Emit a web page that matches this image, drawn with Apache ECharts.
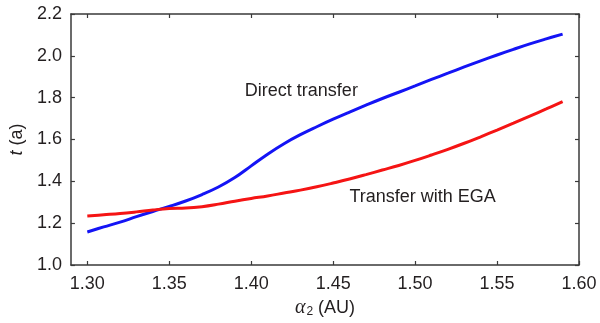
<!DOCTYPE html>
<html>
<head>
<meta charset="utf-8">
<script src="https://cdn.jsdelivr.net/npm/echarts@6/dist/echarts.min.js"></script>
<style>
html,body{margin:0;padding:0;background:#fff;}
#chart{width:600px;height:323px;}
</style>
</head>
<body>
<div id="chart"></div>
<script>
// ---- data ----
var alpha2 = [1.30,1.31,1.32,1.33,1.34,1.35,1.36,1.37,1.38,1.39,1.40,1.41,1.42,1.43,1.44,1.45,1.46,1.47,1.48,1.49,1.50,1.51,1.52,1.53,1.54,1.55,1.56,1.57,1.58,1.59];
var directTransfer = [1.158,1.182,1.205,1.231,1.256,1.280,1.306,1.337,1.373,1.418,1.474,1.530,1.580,1.623,1.661,1.697,1.731,1.764,1.796,1.826,1.856,1.887,1.917,1.947,1.976,2.004,2.031,2.057,2.081,2.104];
var transferEGA = [1.234,1.240,1.246,1.254,1.263,1.270,1.272,1.279,1.291,1.305,1.318,1.330,1.344,1.358,1.374,1.392,1.411,1.432,1.454,1.476,1.500,1.526,1.553,1.582,1.613,1.645,1.678,1.712,1.746,1.781];
var xTicks = [1.30,1.35,1.40,1.45,1.50,1.55,1.60];
var yTicks = [1.0,1.2,1.4,1.6,1.8,2.0,2.2];
var seriesNames = ['Direct transfer','Transfer with EGA'];
var labelCoords = [[1.4306,1.832],[1.5046,1.325]];

function pairs(xs, ys){ return xs.map(function(x,i){ return [x, ys[i]]; }); }

var FONT = '"Liberation Sans", Arial, sans-serif';
var TXT = '#231f20';
var AX = '#3a3a3a';

var chart = echarts.init(document.getElementById('chart'), null, {renderer:'canvas'});

function xAx(pos, showLabel){
  return {
    type:'value', position:pos, min:1.29, max:1.60,
    axisLine:{show:true, onZero:false, lineStyle:{color:AX, width:1.5}},
    axisTick:{show:true, inside:true, length:4, customValues:xTicks, lineStyle:{color:AX, width:1.2}},
    axisLabel:{show:showLabel, customValues:xTicks, margin:10, color:TXT, fontFamily:FONT, fontSize:18,
      formatter:function(v){ return Number(v).toFixed(2); }},
    splitLine:{show:false}
  };
}
function yAx(pos, showLabel){
  return {
    type:'value', position:pos, min:1.0, max:2.2,
    axisLine:{show:true, onZero:false, lineStyle:{color:AX, width:1.5}},
    axisTick:{show:true, inside:true, length:4, customValues:yTicks, lineStyle:{color:AX, width:1.2}},
    axisLabel:{show:showLabel, customValues:yTicks, margin:9, color:TXT, fontFamily:FONT, fontSize:18,
      formatter:function(v){ return Number(v).toFixed(1); }},
    splitLine:{show:false}
  };
}

var xa0 = xAx('bottom', true);
xa0.name = '{a|α}{s|2} (AU)';
xa0.nameLocation = 'middle';
xa0.nameGap = 29;
xa0.nameTextStyle = {color:TXT, fontFamily:FONT, fontSize:18,
  rich:{
    a:{fontFamily:'"Liberation Serif", serif', fontStyle:'italic', fontSize:20, color:TXT},
    s:{fontFamily:FONT, fontSize:12, color:TXT, padding:[8,0,0,1]}
  }};
var ya0 = yAx('left', true);
ya0.name = '{t|t} (a)';
ya0.nameLocation = 'middle';
ya0.nameRotate = 90;
ya0.nameGap = 39;
ya0.nameTextStyle = {color:TXT, fontFamily:FONT, fontSize:18,
  rich:{ t:{fontFamily:FONT, fontStyle:'italic', fontSize:18, color:TXT} }};

function mk(name, coord){
  return {
    symbol:'circle', symbolSize:0, silent:true,
    data:[{coord:coord, value:name}],
    label:{show:true, position:'inside', formatter:name, color:TXT, fontFamily:FONT, fontSize:18}
  };
}

chart.setOption({
  animation:false,
  backgroundColor:'#fff',
  grid:{left:68, right:21, top:14, bottom:58, containLabel:false},
  xAxis:[xa0, xAx('top', false)],
  yAxis:[ya0, yAx('right', false)],
  series:[
    {name:seriesNames[0], type:'line', xAxisIndex:0, yAxisIndex:0, data:pairs(alpha2, directTransfer),
     showSymbol:false, smooth:0.4, lineStyle:{color:'#1414f5', width:3}, itemStyle:{color:'#1414f5'},
     markPoint:mk(seriesNames[0], labelCoords[0])},
    {name:seriesNames[1], type:'line', xAxisIndex:0, yAxisIndex:0, data:pairs(alpha2, transferEGA),
     showSymbol:false, smooth:0.4, lineStyle:{color:'#f51414', width:3}, itemStyle:{color:'#f51414'},
     markPoint:mk(seriesNames[1], labelCoords[1])}
  ]
});
</script>
</body>
</html>
